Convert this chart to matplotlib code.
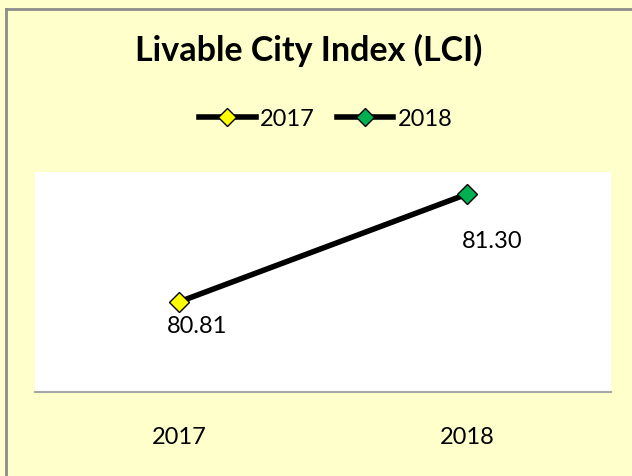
import matplotlib.pyplot as plt
from matplotlib.lines import Line2D

years = ['2017', '2018']
lci = [80.81, 81.30]
marker_colors = ['#FFFF00', '#00B050']

W, H = 632, 476
fig = plt.figure(figsize=(W / 100, H / 100), dpi=100)
fig.patch.set_facecolor('#FFFFCC')
plt.rcParams['font.family'] = ['Lato', 'DejaVu Sans']

# chart frame, only left and top edge are visible in the picture
fig.add_artist(Line2D([6.2 / W, 6.2 / W], [0, 1 - 8.5 / H], color='#8C8C8C', lw=2, transform=fig.transFigure))
fig.add_artist(Line2D([6.2 / W, 1.0], [1 - 8.5 / H, 1 - 8.5 / H], color='#8C8C8C', lw=2, transform=fig.transFigure))

ax = fig.add_axes([35.3 / W, 1 - 392 / H, 576 / W, 220 / H])
ax.set_facecolor('white')
x = [0, 1]
ax.plot(x, lci, color='black', lw=4, zorder=2)
for xi, yi, c in zip(x, lci, marker_colors):
    ax.plot(xi, yi, marker='D', ms=10.5, mfc=c, mec='black', mew=1, zorder=3)

# data labels (offsets in pixels -> points)
offsets = [(18, -25), (25, -47)]
for xi, yi, (dx, dy) in zip(x, lci, offsets):
    ax.annotate('%.2f' % yi, (xi, yi), xytext=(dx * 0.72, dy * 0.72), textcoords='offset points',
                ha='center', va='center', fontsize=17)

ax.set_xlim(-0.5, 1.5)
ax.set_ylim(80.4, 81.4)
ax.set_yticks([])
ax.set_xticks(x)
ax.set_xticklabels(years, fontsize=17)
ax.tick_params(axis='x', length=0, pad=25)
for s in ['top', 'right', 'left']:
    ax.spines[s].set_visible(False)
ax.spines['bottom'].set_color('#A6A6A6')
ax.spines['bottom'].set_linewidth(1.5)

fig.text(309 / W, 1 - 61 / H, 'Livable City Index (LCI)', ha='center', va='baseline',
         fontsize=24.5, fontweight='bold')

handles = [Line2D([], [], color='black', lw=4, marker='D', ms=9.5, mfc=c, mec='black')
           for c in marker_colors]
fig.legend(handles, years, loc='center', bbox_to_anchor=(325.5 / W, 1 - 119 / H), ncol=2,
           frameon=False, fontsize=17, handlelength=2.4, handletextpad=0.17, columnspacing=0.95,
           borderpad=0)

fig.savefig('out.png', facecolor=fig.get_facecolor())
